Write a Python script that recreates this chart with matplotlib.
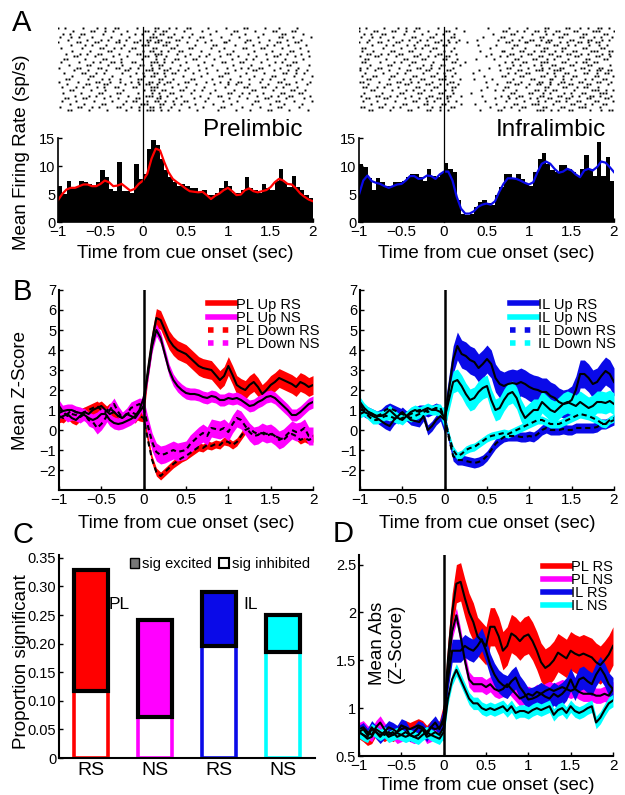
import numpy as np
import matplotlib
matplotlib.use('Agg')
import matplotlib.pyplot as plt
from matplotlib.lines import Line2D
from matplotlib.patches import Patch
from matplotlib.ticker import FuncFormatter

plt.rcParams['font.family'] = ['Liberation Sans', 'DejaVu Sans']

# --- time base (sec from cue onset) ---
t = np.round(np.arange(-1, 2.001, 0.05), 2)          # 61 points
bin_left = np.round(np.arange(-1, 1.96, 0.05), 2)    # 60 PSTH bins
n_trials = 30

# --- A: PSTHs (sp/s) and smoothed rate ---
pl_hist = [6.5, 5.0, 7.3, 6.2, 6.3, 7.3, 7.2, 6.8, 6.5, 7.1,
           9.2, 8.0, 5.9, 5.6, 10.7, 5.5, 5.6, 5.1, 10.3, 7.7,
           8.6, 13.1, 14.6, 13.8, 11.3, 9.2, 8.0, 7.1, 6.5, 6.8,
           6.5, 6.1, 6.1, 5.4, 5.7, 4.8, 4.9, 5.1, 6.0, 7.3,
           6.5, 5.1, 5.1, 5.7, 8.0, 6.0, 5.7, 5.1, 6.8, 6.0,
           5.7, 7.4, 9.5, 7.1, 6.2, 8.3, 6.2, 5.7, 4.8, 4.2]
il_hist = [10.4, 9.8, 7.8, 5.8, 7.9, 7.1, 6.5, 6.5, 7.1, 7.1,
           7.4, 8.0, 8.6, 8.6, 8.0, 7.4, 9.4, 8.3, 8.0, 8.8,
           10.5, 9.5, 9.0, 4.0, 1.5, 1.3, 1.5, 2.7, 3.6, 3.9,
           3.4, 3.0, 4.8, 6.2, 8.6, 8.6, 7.7, 8.6, 7.7, 6.8,
           6.5, 8.9, 11.3, 12.4, 10.4, 9.2, 8.9, 10.1, 10.1, 9.5,
           8.9, 8.3, 9.5, 12.0, 9.5, 8.3, 14.3, 8.3, 11.6, 7.4]
pl_smooth = [3.9, 5.0, 5.8, 6.1, 6.1, 6.4, 6.7, 6.7, 6.4, 6.4,
             6.8, 7.4, 7.1, 6.4, 6.5, 6.8, 6.2, 5.6, 5.9, 6.8,
             7.4, 8.6, 11.3, 13.1, 12.8, 10.7, 8.9, 7.7, 7.1, 6.6,
             6.0, 5.5, 5.4, 5.3, 5.4, 4.8, 4.1, 4.7, 5.1, 5.7,
             6.1, 5.5, 4.8, 4.9, 5.7, 6.0, 5.5, 5.3, 5.5, 5.7,
             6.2, 7.1, 7.7, 7.4, 6.8, 6.7, 6.0, 5.1, 4.5, 4.0, 3.7]
il_smooth = [4.9, 7.4, 8.3, 7.3, 7.0, 6.8, 6.4, 6.1, 6.4, 6.7,
             6.8, 7.4, 8.2, 8.2, 7.7, 7.8, 8.3, 8.2, 7.7, 8.5,
             9.0, 9.0, 7.4, 4.5, 2.4, 1.5, 1.5, 1.9, 2.7, 3.1,
             3.3, 3.1, 3.7, 5.4, 6.8, 7.8, 7.8, 7.7, 7.4, 7.0,
             6.7, 7.1, 8.9, 10.4, 10.8, 10.4, 9.5, 8.8, 9.0, 9.5,
             9.2, 8.5, 8.0, 9.2, 9.5, 9.2, 9.8, 10.8, 10.6, 9.8, 8.9]

# --- B: mean z-score (pre-cue 20 pts, cue, post-cue 40 pts) ---
pl_up_rs = [0.6, 0.7, 0.8, 0.6, 0.5, 0.7, 0.9, 0.8, 1.0, 1.1,
            1.2, 1.0, 0.8, 0.9, 0.7, 0.6, 0.8, 0.7, 0.6, 0.9, 1.2,
            3.0, 4.5, 5.6, 5.5, 5.0, 4.5, 4.2, 4.0, 3.9, 3.8,
            3.6, 3.4, 3.2, 3.1, 3.05, 3.0, 2.75, 2.5, 2.7, 3.2,
            2.75, 2.25, 2.1, 2.0, 2.25, 2.4, 2.15, 1.8, 2.0, 2.25,
            2.4, 2.6, 2.5, 2.4, 2.3, 2.15, 2.4, 2.3, 2.15, 2.25]
pl_up_ns = [0.85, 0.95, 1.0, 1.0, 0.9, 0.85, 0.75, 0.6, 0.5, 0.6,
            0.8, 0.8, 0.5, 0.35, 0.3, 0.35, 0.45, 0.55, 0.7, 1.0, 1.6,
            2.8, 4.2, 5.0, 4.6, 3.8, 3.0, 2.5, 2.2, 2.0, 1.85,
            1.8, 1.8, 1.75, 1.65, 1.6, 1.7, 1.65, 1.5, 1.5, 1.6,
            1.55, 1.6, 1.5, 1.35, 1.2, 1.25, 1.4, 1.5, 1.65, 1.7,
            1.6, 1.4, 1.2, 1.0, 0.75, 0.75, 0.9, 1.1, 1.3, 1.4]
pl_down_rs = [0.7, 0.6, 0.8, 1.0, 0.9, 0.8, 0.9, 1.0, 1.1, 1.2,
              1.0, 0.9, 1.1, 0.9, 0.7, 0.6, 0.8, 0.9, 0.8, 0.7, 0.6,
              -0.5, -1.5, -2.1, -2.3, -2.1, -1.9, -1.7, -1.55, -1.4, -1.3,
              -1.15, -1.0, -0.85, -0.9, -0.75, -0.8, -0.7, -0.75, -0.55, -0.6,
              -0.75, -0.6, -0.3, 0.0, 0.1, -0.1, -0.2, -0.15, -0.3, -0.2,
              -0.3, -0.4, -0.5, -0.3, -0.2, -0.3, -0.5, -0.4, -0.5, -0.4]
pl_down_ns = [1.2, 0.9, 0.7, 0.8, 0.75, 0.65, 0.8, 0.5, 0.4, 0.1,
              0.3, 0.6, 1.0, 1.3, 0.9, 0.6, 0.8, 1.1, 1.2, 1.3, 1.1,
              0.2, -0.6, -1.1, -1.25, -1.2, -1.1, -1.0, -1.1, -1.05, -1.0,
              -0.7, -0.5, -0.3, -0.15, -0.3, 0.1, 0.05, 0.0, 0.1, -0.1,
              0.3, 0.6, 0.5, 0.2, -0.1, -0.3, -0.25, -0.1, -0.2, -0.15,
              -0.3, -0.5, -0.4, -0.2, 0.0, -0.1, -0.05, 0.1, -0.3, -0.3]
il_up_rs = [1.3, 0.9, 0.8, 0.7, 0.6, 0.45, 0.3, 0.2, 0.5, 0.7,
            0.9, 0.7, 0.5, 0.45, 0.4, 0.7, 0.0, 0.2, 0.5, 0.7, 0.5,
            2.0, 3.5, 4.2, 3.8, 3.7, 3.5, 3.4, 3.1, 3.3, 3.55,
            3.3, 2.6, 2.3, 2.2, 2.3, 2.35, 2.3, 2.4, 2.3, 2.15,
            2.05, 2.0, 1.9, 1.9, 1.7, 1.6, 1.4, 1.3, 1.35, 1.5,
            2.0, 2.8, 2.8, 2.6, 2.3, 2.4, 2.7, 2.95, 2.8, 2.4]
il_up_ns = [1.4, 1.1, 0.9, 0.8, 0.7, 0.7, 0.8, 1.0, 0.8, 0.6,
            0.5, 0.7, 0.9, 1.0, 0.9, 1.0, 1.1, 1.0, 1.0, 0.9, 0.6,
            1.5, 2.4, 2.5, 2.2, 1.8, 1.5, 1.6, 1.9, 2.1, 2.2,
            1.5, 1.0, 1.1, 1.5, 1.8, 1.9, 1.6, 1.0, 0.6, 0.8,
            1.0, 1.0, 1.4, 1.2, 1.0, 0.9, 1.1, 1.3, 1.4, 1.3,
            1.2, 1.4, 1.25, 1.1, 1.2, 1.4, 1.4, 1.35, 1.45, 1.3]
il_down_rs = [1.0, 1.0, 0.9, 0.8, 0.7, 0.8, 1.0, 1.1, 1.0, 0.9,
              0.8, 0.7, 0.8, 0.9, 1.0, 1.0, 0.9, 1.0, 1.1, 1.0, 0.6,
              -0.4, -1.3, -1.5, -1.5, -1.55, -1.6, -1.65, -1.6, -1.5, -1.3,
              -1.0, -0.7, -0.5, -0.35, -0.3, -0.3, -0.3, -0.35, -0.35, -0.3,
              -0.35, -0.2, 0.0, 0.1, 0.0, 0.0, 0.0, 0.05, 0.0, 0.0,
              0.1, 0.1, 0.1, 0.1, 0.1, 0.15, 0.3, 0.3, 0.4, 0.5]
il_down_ns = [0.8, 0.9, 0.7, 0.5, 0.5, 0.6, 0.7, 0.7, 0.6, 0.5,
              0.6, 0.7, 0.6, 0.7, 0.8, 0.9, 1.0, 1.0, 1.1, 1.1, 0.6,
              -0.3, -1.0, -1.3, -1.2, -1.0, -0.9, -0.85, -0.7, -0.55, -0.4,
              -0.3, -0.25, -0.2, -0.15, -0.2, -0.1, 0.0, 0.1, 0.2, 0.3,
              0.4, 0.5, 0.5, 0.4, 0.3, 0.3, 0.3, 0.4, 0.5, 0.6,
              0.7, 0.8, 0.75, 0.7, 0.6, 0.5, 0.35, 0.3, 0.5, 0.6]
# band half-widths (pre-cue, post-cue)
sem_b = {'pl_up_rs': (0.25, 0.47), 'pl_up_ns': (0.3, 0.3),
         'pl_down_rs': (0.25, 0.2), 'pl_down_ns': (0.3, 0.45),
         'il_up_rs': (0.25, 0.7), 'il_up_ns': (0.25, 0.55),
         'il_down_rs': (0.25, 0.25), 'il_down_ns': (0.2, 0.2)}

# --- C: proportion significant ---
groups = ['RS', 'NS', 'RS', 'NS']
prop_inhibited = [0.117, 0.072, 0.196, 0.186]
prop_excited = [0.212, 0.170, 0.094, 0.064]

# --- D: mean abs z-score ---
pl_rs_abs = [0.75, 0.72, 0.68, 0.70, 0.78, 0.75, 0.72, 0.75, 0.72, 0.75,
             0.78, 0.80, 0.78, 0.80, 0.82, 0.80, 0.75, 0.80, 0.78, 0.80, 0.85,
             1.5, 2.0, 2.3, 2.32, 2.15, 2.0, 1.9, 1.75, 1.7, 1.65,
             1.85, 1.85, 1.75, 1.6, 1.65, 1.78, 1.75, 1.7, 1.75, 1.77,
             1.7, 1.6, 1.48, 1.42, 1.45, 1.5, 1.58, 1.55, 1.52, 1.6,
             1.57, 1.55, 1.57, 1.55, 1.53, 1.48, 1.45, 1.5, 1.56, 1.65]
pl_ns_abs = [0.78, 0.80, 0.75, 0.72, 0.80, 0.85, 0.78, 0.72, 0.75, 0.70,
             0.72, 0.75, 0.72, 0.70, 0.72, 0.78, 0.70, 0.72, 0.75, 0.72, 0.80,
             1.4, 1.8, 1.97, 1.75, 1.5, 1.3, 1.25, 1.25, 1.25, 1.22,
             1.25, 1.2, 1.18, 1.2, 1.25, 1.2, 1.15, 1.1, 1.12, 1.15,
             1.13, 1.17, 1.15, 1.18, 1.2, 1.18, 1.2, 1.22, 1.2, 1.18,
             1.2, 1.17, 1.15, 1.15, 1.15, 1.13, 1.13, 1.15, 1.13, 1.2]
il_rs_abs = [0.75, 0.78, 0.72, 0.80, 0.75, 0.70, 0.75, 0.80, 0.78, 0.75,
             0.82, 0.80, 0.72, 0.75, 0.80, 0.78, 0.72, 0.80, 0.85, 0.78, 0.90,
             1.3, 1.6, 1.6, 1.6, 1.65, 1.62, 1.6, 1.65, 1.72, 1.6,
             1.45, 1.35, 1.28, 1.24, 1.22, 1.28, 1.32, 1.22, 1.16, 1.09,
             1.1, 1.12, 1.15, 1.12, 1.1, 1.15, 1.12, 1.15, 1.2, 1.3,
             1.2, 1.3, 1.32, 1.28, 1.25, 1.35, 1.42, 1.35, 1.25, 1.2]
il_ns_abs = [0.75, 0.72, 0.70, 0.78, 0.75, 0.72, 0.75, 0.70, 0.72, 0.74,
             0.72, 0.70, 0.72, 0.70, 0.68, 0.72, 0.75, 0.72, 0.70, 0.68, 0.75,
             1.1, 1.3, 1.4, 1.3, 1.2, 1.1, 1.05, 1.05, 1.0, 0.98,
             1.0, 0.98, 1.0, 1.02, 0.97, 1.02, 0.95, 0.97, 0.97, 0.95,
             0.98, 1.0, 0.98, 1.0, 1.02, 0.93, 0.98, 1.0, 0.95, 1.02,
             0.97, 0.95, 0.97, 1.0, 1.02, 0.85, 0.9, 0.98, 1.05, 1.08]
sem_d = {'pl_rs': (0.07, 0.2), 'pl_ns': (0.07, 0.08),
         'il_rs': (0.07, 0.12), 'il_ns': (0.06, 0.065)}

RED, MAG, BLUE, CYAN = '#ff0000', '#ff00ff', '#0a0ae8', '#00ffff'
time_ticks = [-1, -0.5, 0, 0.5, 1, 1.5, 2]
fmt_g = FuncFormatter(lambda v, p: ('%g' % v).replace('-', '\u2212'))

W, H = 625, 795
fig = plt.figure(figsize=(W / 100, H / 100), dpi=100)


def add_ax(x0, y0, x1, y1):
    return fig.add_axes([x0 / W, 1 - y1 / H, (x1 - x0) / W, (y1 - y0) / H])


def ftext(x, y, s, **kw):
    fig.text(x / W, 1 - y / H, s, **kw)


def style(ax, lw=1.5):
    for s in ['top', 'right']:
        ax.spines[s].set_visible(False)
    for s in ['left', 'bottom']:
        ax.spines[s].set_linewidth(lw)
    ax.tick_params(direction='in', length=3, width=1, pad=2)
    ax.tick_params(axis='x', labelsize=11)
    ax.tick_params(axis='y', labelsize=10.5)


def sem_of(pair):
    return np.where(t < 0, pair[0], pair[1])


# ---------------- A ----------------
for (x0, x1), hist, smooth, col, name in [((58, 313), pl_hist, pl_smooth, RED, 'Prelimbic'),
                                          ((359, 614), il_hist, il_smooth, BLUE, 'Infralimbic')]:
    axr = add_ax(x0, 27, x1, 111)
    axr.axis('off')
    axr.set_xlim(-1, 2)
    axr.set_ylim(n_trials + 0.5, 0.5)
    # raster dots laid out from the PSTH counts
    xs, ys = [], []
    for i, r in enumerate(hist):
        n = int(round(r * 0.05 * n_trials))
        for k in range(n):
            ys.append((i * 11 + k * 7) % n_trials + 1)
            xs.append(bin_left[i] + 0.05 * ((0.618 * k + 0.377 * i) % 1))
    axr.plot(xs, ys, 's', ms=1.4, color='k', mec='none')

    ax = add_ax(x0, 138, x1, 222)
    style(ax, 1.2)
    ax.bar(bin_left, hist, width=0.05, align='edge', color='k', linewidth=0)
    ax.plot(t, smooth, color=col, lw=1.6)
    ax.axvline(0, ymin=0, ymax=(222 - 27) / 84, color='k', lw=0.9, clip_on=False)
    ax.set_xlim(-1, 2)
    ax.set_ylim(0, 15)
    ax.set_xticks(time_ticks)
    ax.set_yticks([0, 5, 10, 15])
    ax.xaxis.set_major_formatter(fmt_g)
    ftext((x0 + x1) / 2, 254, 'Time from cue onset (sec)', fontsize=13.5,
          ha='center', va='center')
    ax.text(0.96 if name == 'Prelimbic' else 0.97, 1.09, name, transform=ax.transAxes,
            fontsize=17.5, ha='right', va='center')

ftext(22, 152, 'Mean Firing Rate (sp/s)', fontsize=13.5, rotation=90, ha='center', va='center')

# ---------------- B ----------------
b_sets = [((59, 313), [('pl_up_rs', pl_up_rs, RED, '-'), ('pl_down_rs', pl_down_rs, RED, '--'),
                       ('pl_up_ns', pl_up_ns, MAG, '-'), ('pl_down_ns', pl_down_ns, MAG, '--')],
           [('PL Up RS', RED, '-'), ('PL Up NS', MAG, '-'),
            ('PL Down RS', RED, ':'), ('PL Down NS', MAG, ':')], 0.585),
          ((360, 614), [('il_up_rs', il_up_rs, BLUE, '-'), ('il_down_rs', il_down_rs, BLUE, '--'),
                        ('il_up_ns', il_up_ns, CYAN, '-'), ('il_down_ns', il_down_ns, CYAN, '--')],
           [('IL Up RS', BLUE, '-'), ('IL Up NS', CYAN, '-'),
            ('IL Down RS', BLUE, ':'), ('IL Down NS', CYAN, ':')], 0.59)]

for (x0, x1), series, leg, lx in b_sets:
    ax = add_ax(x0, 290, x1, 490)
    style(ax)
    for key, m, col, ls in series:
        m = np.array(m)
        s = sem_of(sem_b[key])
        ax.fill_between(t, m - s, m + s, color=col, lw=0)
    for key, m, col, ls in series:
        if ls == '-':
            ax.plot(t, m, color='k', lw=1.5)
        else:
            ax.plot(t, m, color='k', lw=1.5, dashes=(2.5, 1.8))
    ax.axvline(0, color='k', lw=1.8)
    ax.set_xlim(-1, 2)
    ax.set_ylim(-3, 7)
    ax.set_xticks(time_ticks)
    ax.set_yticks(range(-2, 8))
    ax.xaxis.set_major_formatter(fmt_g)
    ax.yaxis.set_major_formatter(fmt_g)
    handles = [Line2D([], [], color=c, lw=4, ls=ls) for _, c, ls in leg]
    ax.legend(handles, [l for l, _, _ in leg], loc='upper left', bbox_to_anchor=(lx, 0.962),
              frameon=False, fontsize=10.5, handlelength=1.85, handletextpad=0.1,
              labelspacing=-0.06, borderpad=0, borderaxespad=0)
    ftext((x0 + x1) / 2, 523, 'Time from cue onset (sec)', fontsize=13.5,
          ha='center', va='center')

ftext(21, 391, 'Mean Z-Score', fontsize=13.5, rotation=90, ha='center', va='center')

# ---------------- C ----------------
ax = add_ax(59, 555, 315, 758)
style(ax)
xpos = np.arange(1, 5)
cols = [RED, MAG, BLUE, CYAN]
ax.bar(xpos, prop_inhibited, width=0.52, color='white', edgecolor=cols, linewidth=2.6)
ax.bar(xpos, prop_excited, bottom=prop_inhibited, width=0.52, color=cols,
       edgecolor='k', linewidth=3.0)
ax.set_xlim(0.5, 4.5)
ax.set_ylim(0, 0.355)
ax.set_yticks([0, 0.05, 0.10, 0.15, 0.20, 0.25, 0.30, 0.35])
ax.set_yticklabels(['0', '0.05', '0.10', '0.15', '0.20', '0.25', '0.30', '0.35'])
ax.set_xticks(xpos)
ax.set_xticklabels(groups, fontsize=14)
ax.tick_params(axis='x', length=0, pad=3)
ax.text(1.44, 0.268, 'PL', fontsize=12.5, ha='center', va='center')
ax.text(3.5, 0.268, 'IL', fontsize=12.5, ha='center', va='center')
ax.legend([Patch(facecolor='#777777', edgecolor='k'), Patch(facecolor='white', edgecolor='k', lw=1.5)],
          ['sig excited', 'sig inhibited'], loc='upper left', bbox_to_anchor=(0.277, 0.99),
          ncol=2, frameon=False, fontsize=10.5, handlelength=0.65, handleheight=0.65,
          handletextpad=0.2, columnspacing=0.5, borderpad=0, borderaxespad=0)
ftext(22, 662, 'Proportion significant', fontsize=13.5, rotation=90, ha='center', va='center')

# ---------------- D ----------------
ax = add_ax(359, 555, 613, 756)
style(ax)
d_series = [('pl_rs', pl_rs_abs, RED, 'PL RS'), ('pl_ns', pl_ns_abs, MAG, 'PL NS'),
            ('il_rs', il_rs_abs, BLUE, 'IL RS'), ('il_ns', il_ns_abs, CYAN, 'IL NS')]
for key, m, col, lab in d_series:
    m = np.array(m)
    s = sem_of(sem_d[key])
    ax.fill_between(t, m - s, m + s, color=col, lw=0)
for key, m, col, lab in d_series:
    ax.plot(t, m, color='k', lw=1.5)
ax.axvline(0, color='k', lw=1.8)
ax.set_xlim(-1, 2)
ax.set_ylim(0.5, 2.6)
ax.set_xticks(time_ticks)
ax.set_yticks([0.5, 1, 1.5, 2, 2.5])
ax.xaxis.set_major_formatter(fmt_g)
ax.yaxis.set_major_formatter(fmt_g)
ax.legend([Line2D([], [], color=c, lw=4) for _, _, c, _ in d_series],
          [lab for _, _, _, lab in d_series], loc='upper left', bbox_to_anchor=(0.724, 0.975),
          frameon=False, fontsize=10.5, handlelength=1.85, handletextpad=0.1,
          labelspacing=-0.06, borderpad=0, borderaxespad=0)
ftext(387, 643, 'Mean Abs\n(Z-Score)', fontsize=13.5, rotation=90, ha='center', va='center',
      multialignment='center', linespacing=1.1)
ftext(486, 785, 'Time from cue onset (sec)', fontsize=13.5, ha='center', va='center')

# ---------------- panel letters ----------------
for letter, (x, y) in zip('ABCD', [(22, 23), (22, 292), (23, 535), (343, 534)]):
    ftext(x, y, letter, fontsize=21, ha='center', va='center')

fig.savefig('out.png', dpi=100)
